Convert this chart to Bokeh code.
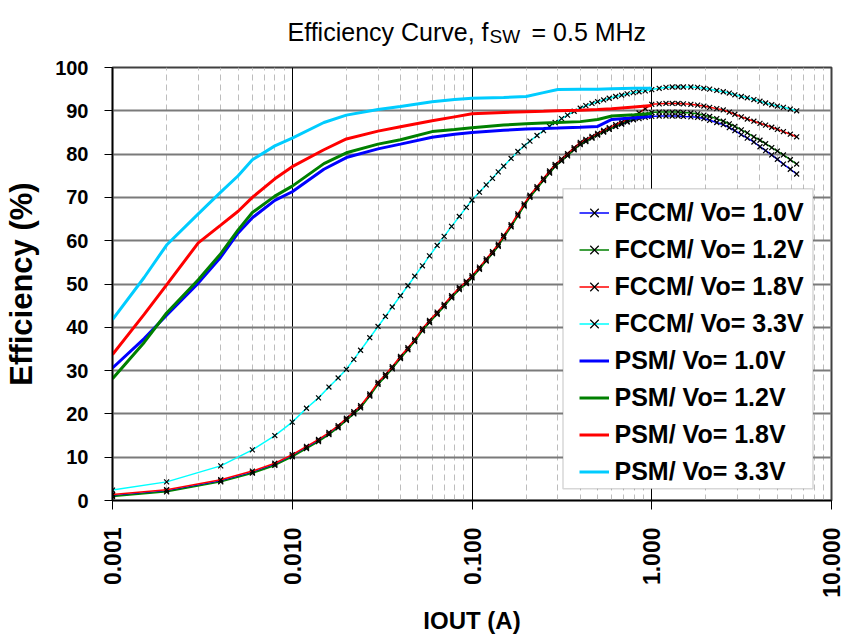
import math
from bokeh.plotting import figure
from bokeh.layouts import column
from bokeh.models import (Range1d, FixedTicker, Legend, LegendItem,
                          BoxAnnotation, CustomJSTickFormatter)
from bokeh.core.properties import value
from bokeh.embed import file_html
from bokeh.resources import INLINE

# ---------------- data ----------------
TITLE_PARTS = ["Efficiency Curve, f", "SW", "= 0.5 MHz"]
X_TICKS = [0.001, 0.01, 0.1, 1.0, 10.0]
X_TICK_LABELS = ["0.001", "0.010", "0.100", "1.000", "10.000"]
Y_TICKS = [0, 10, 20, 30, 40, 50, 60, 70, 80, 90, 100]
Y_TICK_LABELS = ["0", "10", "20", "30", "40", "50", "60", "70", "80", "90", "100"]

FCCM_I = [0.001, 0.002, 0.004, 0.006, 0.008, 0.010, 0.012, 0.014, 0.016, 0.018,
          0.020, 0.022, 0.024, 0.027, 0.030, 0.033, 0.036, 0.040, 0.044, 0.048,
          0.053, 0.058, 0.064, 0.070, 0.077, 0.085, 0.093, 0.100,
          0.11, 0.12, 0.13, 0.14, 0.15, 0.165, 0.18, 0.195, 0.21, 0.23,
          0.25, 0.27, 0.29, 0.315, 0.34, 0.37, 0.40, 0.43, 0.465, 0.50,
          0.54, 0.58, 0.63, 0.68, 0.73, 0.79, 0.85, 0.92, 1.00,
          1.1, 1.2, 1.3, 1.4, 1.5, 1.65, 1.8, 1.95, 2.1, 2.3, 2.5, 2.7,
          2.9, 3.15, 3.4, 3.7, 4.0, 4.3, 4.65, 5.0, 5.4, 5.9, 6.4]

FCCM_10 = [1.1, 2.2, 4.5, 6.5, 8.3, 10.3, 12.2, 13.8, 15.4, 17.0,
           18.7, 20.2, 21.6, 24.3, 27.0, 28.8, 30.6, 33.0, 35.0, 36.9,
           39.4, 41.3, 43.2, 45.0, 47.0, 48.9, 50.3, 51.6,
           53.6, 55.5, 57.2, 58.9, 60.9, 63.4, 65.9, 68.2, 70.2, 72.2,
           74.1, 75.8, 77.3, 78.6, 79.8, 81.2, 82.4, 83.1, 83.8, 84.5,
           85.2, 85.8, 86.4, 86.9, 87.4, 87.9, 88.2, 88.5, 88.7,
           88.8, 88.8, 88.8, 88.8, 88.7, 88.6, 88.5, 88.2, 87.8, 87.3, 86.8, 86.1,
           85.4, 84.5, 83.7, 82.8, 81.7, 80.8, 79.8, 78.8, 77.7, 76.5, 75.4]

FCCM_12 = [0.9, 2.0, 4.3, 6.3, 8.1, 10.1, 12.0, 13.6, 15.2, 16.8,
           18.5, 20.0, 21.4, 24.1, 26.8, 28.6, 30.4, 32.8, 34.8, 36.7,
           39.2, 41.1, 43.0, 44.8, 46.8, 48.7, 50.1, 51.4,
           53.4, 55.3, 57.0, 58.7, 60.7, 63.2, 65.7, 68.0, 70.0, 72.0,
           73.9, 75.6, 77.1, 78.4, 79.6, 81.0, 82.2, 82.9, 83.7, 84.4,
           85.1, 85.7, 86.4, 87.0, 87.6, 88.1, 88.6, 89.1, 89.6,
           89.7, 89.7, 89.7, 89.7, 89.6, 89.5, 89.3, 89.0, 88.7, 88.2, 87.6, 87.0,
           86.4, 85.6, 84.9, 84.0, 83.2, 82.4, 81.5, 80.7, 79.8, 78.7, 77.7]

FCCM_18 = [1.4, 2.5, 4.8, 6.8, 8.6, 10.6, 12.5, 14.1, 15.7, 17.3,
           19.0, 20.5, 21.9, 24.6, 27.3, 29.1, 30.9, 33.3, 35.3, 37.2,
           39.7, 41.6, 43.5, 45.3, 47.3, 49.2, 50.6, 51.9,
           53.9, 55.8, 57.5, 59.2, 61.2, 63.7, 66.2, 68.5, 70.5, 72.5,
           74.4, 76.1, 77.6, 78.9, 80.1, 81.5, 82.7, 83.4, 84.1, 84.8,
           85.5, 86.1, 86.8, 87.4, 88.0, 88.7, 89.5, 90.5, 91.5,
           91.6, 91.7, 91.7, 91.7, 91.6, 91.5, 91.3, 91.1, 90.8, 90.5, 90.2, 89.7,
           89.2, 88.6, 88.1, 87.6, 87.1, 86.7, 86.2, 85.7, 85.2, 84.6, 84.0]

FCCM_33 = [2.4, 4.3, 8.0, 11.7, 15.0, 18.1, 21.3, 23.7, 26.2, 28.3,
           30.3, 32.6, 34.7, 37.6, 40.2, 42.5, 44.7, 47.3, 49.6, 51.8,
           54.2, 56.5, 58.9, 61.0, 63.3, 65.6, 67.7, 69.4,
           71.2, 72.9, 74.4, 75.9, 77.2, 79.0, 80.6, 81.9, 83.0, 84.3,
           85.4, 86.4, 87.3, 88.2, 89.0, 89.9, 90.6, 91.2, 91.7, 92.1,
           92.5, 92.9, 93.3, 93.6, 93.9, 94.2, 94.4, 94.6, 94.9,
           95.2, 95.4, 95.5, 95.5, 95.5, 95.5, 95.4, 95.2, 95.0, 94.7, 94.4, 94.1,
           93.7, 93.3, 93.0, 92.6, 92.2, 91.8, 91.4, 91.1, 90.8, 90.4, 90.0]

PSM_I = [0.001, 0.0015, 0.002, 0.003, 0.004, 0.005, 0.006, 0.008, 0.010, 0.015,
         0.020, 0.030, 0.040, 0.060, 0.080, 0.100, 0.150, 0.200, 0.250, 0.300,
         0.400, 0.500, 0.600, 0.800, 1.000]
PSM_10 = [30.6, 37.4, 42.8, 50.2, 56.2, 61.8, 65.3, 69.3, 71.3, 76.5,
          79.2, 81.2, 82.3, 83.9, 84.6, 85.0, 85.5, 85.8, 85.9, 86.0,
          86.2, 86.4, 88.0, 88.4, 88.7]
PSM_12 = [28.1, 36.5, 43.3, 51.0, 57.0, 62.5, 66.5, 70.3, 72.6, 77.8,
          80.3, 82.3, 83.3, 85.2, 85.7, 86.1, 86.7, 87.0, 87.2, 87.3,
          87.5, 88.0, 88.8, 89.1, 89.4]
PSM_18 = [33.7, 43.0, 49.8, 59.5, 63.6, 66.8, 70.0, 74.3, 77.1, 81.0,
          83.5, 85.3, 86.3, 87.7, 88.6, 89.3, 89.6, 89.8, 89.9, 90.0,
          90.1, 90.3, 90.5, 90.9, 91.2]
PSM_33 = [41.8, 51.5, 59.0, 66.2, 71.2, 75.0, 78.7, 81.9, 83.7, 87.3,
          89.0, 90.3, 91.0, 92.1, 92.6, 92.9, 93.1, 93.3, 94.2, 94.9,
          95.0, 95.0, 95.1, 95.2, 95.2]

FCCM_LABELS = ["FCCM/ Vo= 1.0V", "FCCM/ Vo= 1.2V", "FCCM/ Vo= 1.8V", "FCCM/ Vo= 3.3V"]
PSM_LABELS = ["PSM/ Vo= 1.0V", "PSM/ Vo= 1.2V", "PSM/ Vo= 1.8V", "PSM/ Vo= 3.3V"]

# ---------------- styles ----------------
FONT = "Liberation Sans"
FCCM_COLORS = ["#0000FF", "#008000", "#FF0000", "#00FFFF"]
PSM_COLORS = ["#0000FF", "#008000", "#FF0000", "#00CCFF"]

W = 844
TITLE_H = 50
FRAME_L, FRAME_R = 112, 831   # frame edges in page pixels (frames align in a column)

# ---- title strip (title with subscript) ----
pt = figure(width=W, height=TITLE_H, title=None,
            x_range=Range1d(FRAME_L, FRAME_R), y_range=Range1d(0, TITLE_H),
            output_backend="svg", toolbar_location=None,
            x_axis_location=None, y_axis_location=None, min_border=0)
pt.grid.visible = False
pt.outline_line_color = None
pt.background_fill_color = "white"
pt.border_fill_color = "white"
TITLE_X = 287
TITLE_Y = TITLE_H - 31
pt.text(x=[TITLE_X], y=[TITLE_Y], text=[TITLE_PARTS[0]], text_font=value(FONT),
        text_font_size="25px", text_color="black", text_baseline="alphabetic")
pt.text(x=[TITLE_X], y=[TITLE_Y], text=[TITLE_PARTS[1]], text_font=value(FONT),
        x_offset=202, y_offset=5,
        text_font_size="19px", text_color="black", text_baseline="alphabetic")
pt.text(x=[TITLE_X], y=[TITLE_Y], text=[TITLE_PARTS[2]], text_font=value(FONT),
        x_offset=244,
        text_font_size="25px", text_color="black", text_baseline="alphabetic")

# ---- main chart ----
p = figure(width=W, height=637 - TITLE_H, title=None, x_axis_type="log",
           x_range=Range1d(0.001, 10), y_range=Range1d(0, 100),
           output_backend="svg", toolbar_location=None,
           min_border_left=FRAME_L, min_border_right=W - FRAME_R,
           min_border_top=67 - TITLE_H, min_border_bottom=137)
p.background_fill_color = "white"
p.border_fill_color = "white"
p.outline_line_color = "#404040"
p.outline_line_width = 2

minor = [m * 10.0 ** e for e in range(-3, 1) for m in range(2, 10)]
p.xaxis.ticker = FixedTicker(ticks=X_TICKS, minor_ticks=minor)
p.xaxis.formatter = CustomJSTickFormatter(
    args=dict(tvals=X_TICKS, tlabels=X_TICK_LABELS),
    code="const i = tvals.findIndex(t => Math.abs(Math.log10(t) - Math.log10(tick)) < 1e-6); return i >= 0 ? tlabels[i] : '';")
p.yaxis.ticker = FixedTicker(ticks=Y_TICKS)
p.yaxis.formatter = CustomJSTickFormatter(
    args=dict(tvals=Y_TICKS, tlabels=Y_TICK_LABELS),
    code="const i = tvals.findIndex(t => Math.abs(t - tick) < 1e-6); return i >= 0 ? tlabels[i] : '';")

p.xgrid.grid_line_color = "black"
p.xgrid.grid_line_width = 1
p.xgrid.minor_grid_line_color = "#bdbdbd"
p.xgrid.minor_grid_line_dash = "6 4"
p.xgrid.minor_grid_line_width = 1
p.ygrid.grid_line_color = "#7a7a7a"
p.ygrid.grid_line_width = 2

for ax in (p.xaxis[0], p.yaxis[0]):
    ax.axis_line_color = "black"
    ax.axis_line_width = 1.5
    ax.major_tick_in = 0
    ax.minor_tick_in = 0
    ax.minor_tick_out = 0
    ax.major_tick_line_color = "black"
    ax.major_label_text_font = FONT
    ax.major_label_text_font_style = "bold"
    ax.major_label_text_color = "black"
    ax.axis_label_text_font = FONT
    ax.axis_label_text_font_style = "bold"
    ax.axis_label_text_color = "black"

p.xaxis.major_tick_out = 9
p.xaxis.major_label_standoff = 18
p.xaxis.major_label_orientation = math.pi / 2
p.xaxis.major_label_text_font_size = "23px"
p.xaxis.axis_label = "IOUT (A)"
p.xaxis.axis_label_text_font_size = "24px"
p.xaxis.axis_label_standoff = 6

p.yaxis.major_tick_out = 8
p.yaxis.major_label_standoff = 16
p.yaxis.major_label_text_font_size = "20px"
p.yaxis.axis_label = "Efficiency (%)"
p.yaxis.axis_label_text_font_size = "31px"
p.yaxis.axis_label_standoff = 13

# ---------------- series ----------------
fccm_vals = [FCCM_10, FCCM_12, FCCM_18, FCCM_33]
psm_vals = [PSM_10, PSM_12, PSM_18, PSM_33]
items = []
for vals, col, lab in zip(fccm_vals, FCCM_COLORS, FCCM_LABELS):
    rl = p.line(FCCM_I, vals, line_color=col, line_width=1.5)
    rs = p.scatter(FCCM_I, vals, marker="x", size=7, line_color="black", line_width=1.2)
    items.append(LegendItem(label=lab, renderers=[rl, rs]))
for vals, col, lab in zip(psm_vals, PSM_COLORS, PSM_LABELS):
    rl = p.line(PSM_I, vals, line_color=col, line_width=3)
    items.append(LegendItem(label=lab, renderers=[rl]))

# legend frame
box = BoxAnnotation(left=450.5, right=700.5, top=311.7, bottom=11.7,
                    left_units="screen", right_units="screen",
                    top_units="screen", bottom_units="screen",
                    fill_color="white", fill_alpha=1.0,
                    line_color="#7a7a7a", line_width=1.5)
p.add_layout(box)

legend = Legend(items=items, location=(466.5, 10), padding=3, spacing=0,
                glyph_width=30, glyph_height=37, label_height=37, label_standoff=6,
                label_text_font=FONT, label_text_font_style="bold",
                label_text_font_size="25px", label_text_color="black",
                border_line_color=None, background_fill_alpha=0, margin=0)
p.add_layout(legend)

layout = column(pt, p, spacing=0)
open("out.html", "w").write(file_html(layout, INLINE))
